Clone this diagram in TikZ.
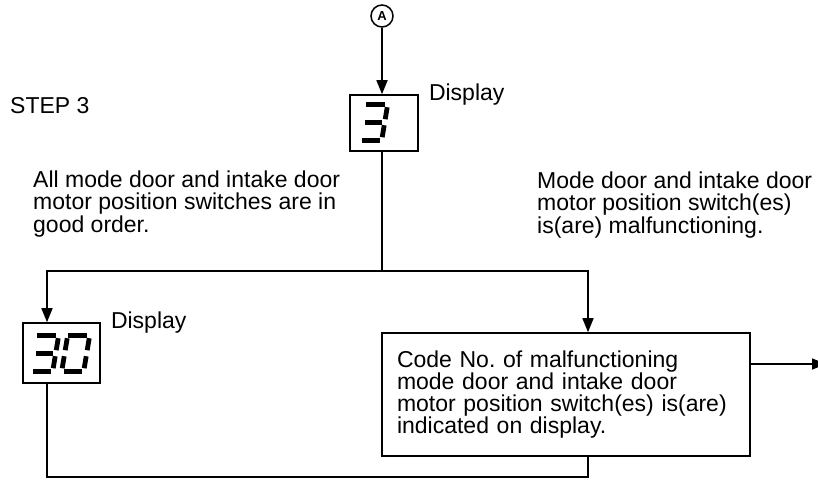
\documentclass[tikz,border=0pt]{standalone}
\usepackage{fontspec}
\setmainfont{Liberation Sans}
\usepackage{tikz}
\usetikzlibrary{positioning,arrows.meta,calc}
\tikzset{
    frame/.style={rectangle, draw, line width=1.6pt, inner sep=0pt},
    note/.style={anchor=west, align=left, inner sep=0pt, font=\fontsize{23}{22.2}\selectfont},
    arrow/.style={-{Triangle[width=11pt,length=14pt]}, line width=1.6pt},
    wire/.style={line width=1.6pt},
    seg/.style={line width=4.8pt},
    circled/.style={circle, draw, line width=1.5pt, minimum size=22pt, inner sep=0pt, font=\bfseries\fontsize{13}{13}\selectfont},
    digit3/.pic={
        \draw[seg] (3,0) -- (22,0);
        \draw[seg] (2,18) -- (19,18);
        \draw[seg] (-1,36) -- (17,36);
        \draw[seg] (24,3) -- (22,15);
        \draw[seg] (21,21) -- (19,33);
    },
    digit0/.pic={
        \draw[seg] (3,0) -- (22,0);
        \draw[seg] (-1,36) -- (17,36);
        \draw[seg] (2,3) -- (0,15);
        \draw[seg] (-1,21) -- (-3,33);
        \draw[seg] (24,3) -- (22,15);
        \draw[seg] (21,21) -- (19,33);
    }
}

\begin{document}
\frenchspacing
\begin{tikzpicture}[x=1pt, y=-1pt]
\path[use as bounding box, clip] (0,0) rectangle (818,483);

\node[circled] (markA) at (382,16) {A};
\node[note] (steplbl) at (10,106) {STEP 3};

\node[frame, minimum width=68pt, minimum height=56pt] (dispthree) at (384,123) {};
\pic at ($(dispthree.north west)+(14,10)$) {digit3};
\node[note, right=10pt of dispthree.north east] (lblthree) {Display};

\node[note] (goodtxt) at (33,204) {All mode door and intake door\\motor position switches are in\\good order.};
\node[note] (badtxt) at (537,205) {Mode door and intake door\\motor position switch(es)\\is(are) malfunctioning.};

\node[frame, minimum width=77pt, minimum height=60pt] (dispthirty) at (61.5,353) {};
\pic at ($(dispthirty.north west)+(12,13)$) {digit3};
\pic at ($(dispthirty.north west)+(43,13)$) {digit0};
\node[note, right=10pt of dispthirty.north east] (lblthirty) {Display};

\node[frame, minimum width=368pt, minimum height=123pt, text width=338pt, align=left, font=\fontsize{23}{22.2}\selectfont] (codebox) at (566,394.5) {Code No. of malfunctioning\\mode door and intake door\\motor position switch(es) is(are)\\indicated on display.\\[8pt]};

\coordinate (split) at (382,271);
\coordinate (lleft) at (47,271);
\coordinate (rright) at (588,271);
\coordinate (lbot) at (47,477);
\coordinate (exit) at (826,364);

\draw[arrow] (markA.south) -- (split |- dispthree.north);
\draw[wire] (split |- dispthree.south) -- (split);
\draw[arrow] (split) -| (lleft |- dispthirty.north);
\draw[arrow] (split) -| (rright |- codebox.north);
\draw[wire] (lleft |- dispthirty.south) -- (lbot) -| (rright |- codebox.south);
\draw[arrow] (exit -| codebox.east) -- (exit);

\end{tikzpicture}
\end{document}
